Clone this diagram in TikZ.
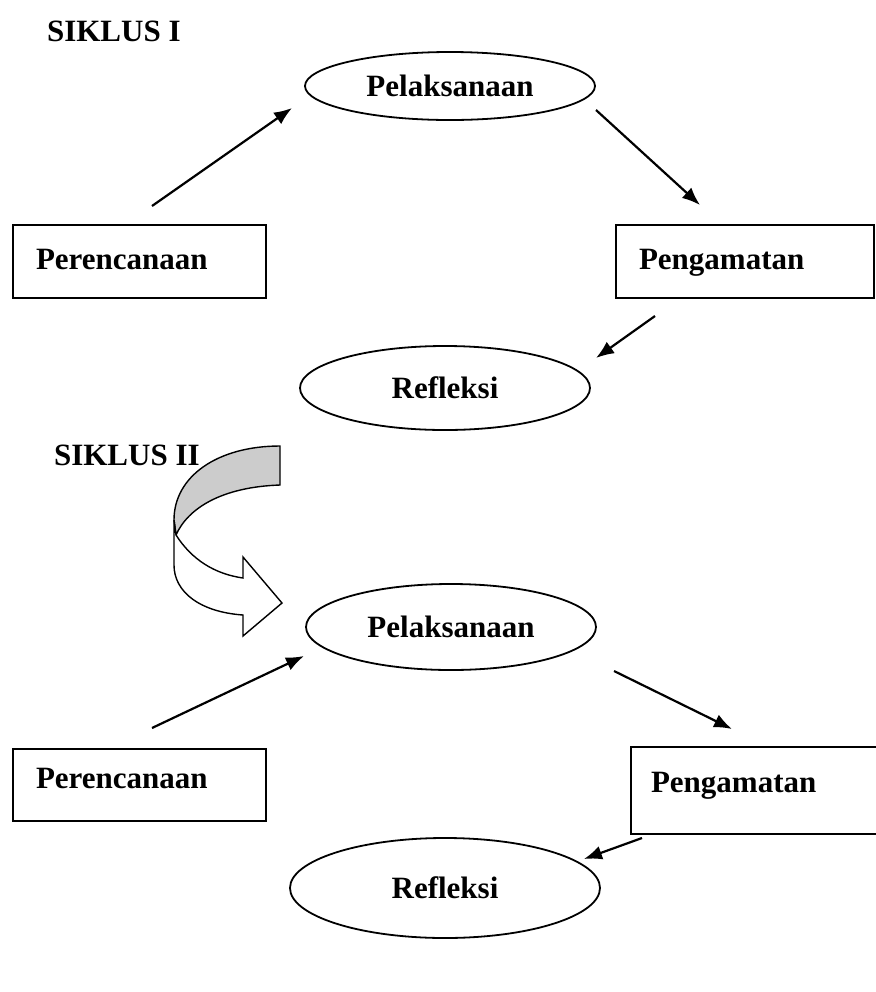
\documentclass[tikz,border=0pt]{standalone}
\usepackage{fontspec}
\setmainfont{Liberation Serif}
\usetikzlibrary{shapes,arrows.meta}
\def\lengkungatas{(280,446) -- (280,485) .. controls (222,487) and (188,508) .. (176,535) -- (174,520) .. controls (174,476) and (218,446) .. (280,446) -- cycle}
\def\lengkungbawah{(176,535) .. controls (192,560) and (215,574) .. (243,578) -- (243,557) -- (282,603) -- (243,636) -- (243,615) .. controls (200,612) and (174,592) .. (174,565) -- (174,520) -- cycle}

\begin{document}
\begin{tikzpicture}[x=0.5pt,y=-0.5pt,
   every node/.style={font=\bfseries\fontsize{15.5}{18}\selectfont},
   elips/.style={draw,ellipse,line width=0.9pt,inner sep=0pt},
   kotak/.style={draw,rectangle,line width=1pt,anchor=north west,align=left,inner ysep=0pt},
   panah/.style={line width=1.1pt,-{Latex[length=9pt,width=7pt]}}]
\useasboundingbox (0,0) rectangle (875,992);
      \node[anchor=west] (siklus1) at (40,31) {SIKLUS I};
    \node[elips,minimum width=145pt,minimum height=34pt] (laks1) at (450,86) {Pelaksanaan};
    \node[kotak,text width=103.5pt,inner xsep=11.5pt,text height=22pt,text depth=14.5pt] (renc1) at (12,224) {Perencanaan};
    \node[kotak,text width=106pt,inner xsep=11.5pt,text height=22pt,text depth=14.5pt] (amat1) at (615,224) {Pengamatan};
    \node[elips,minimum width=145pt,minimum height=42pt] (ref1) at (445,388) {Refleksi};
      \coordinate (renc1-out) at (152,206); \coordinate (laks1-in) at (292,108);
      \coordinate (laks1-out) at (596,110); \coordinate (amat1-in) at (700,205);
      \coordinate (amat1-out) at (655,316); \coordinate (ref1-in) at (596,358);
   \draw[panah] (renc1-out) -- (laks1-in);
   \draw[panah] (laks1-out) -- (amat1-in);
   \draw[panah] (amat1-out) -- (ref1-in);

      \node[anchor=west] (siklus2) at (47,455) {SIKLUS II};
         \filldraw[fill=gray!40,line width=0.7pt] \lengkungatas;
         \filldraw[fill=white,line width=0.7pt] \lengkungbawah;
    \node[elips,minimum width=145pt,minimum height=43pt] (laks2) at (451,627) {Pelaksanaan};
    \node[kotak,text width=103.5pt,inner xsep=11.5pt,text height=19.5pt,text depth=16.5pt] (renc2) at (12,748) {Perencanaan};
    \node[kotak,text width=125pt,inner xsep=10pt,text height=22.5pt,text depth=21pt] (amat2) at (630,746) {Pengamatan};
    \node[elips,minimum width=155pt,minimum height=50pt] (ref2) at (445,888) {Refleksi};
      \coordinate (renc2-out) at (152,728); \coordinate (laks2-in) at (304,656);
      \coordinate (laks2-out) at (614,671); \coordinate (amat2-in) at (732,729);
      \coordinate (amat2-out) at (642,838); \coordinate (ref2-in) at (584,859);
   \draw[panah] (renc2-out) -- (laks2-in);
   \draw[panah] (laks2-out) -- (amat2-in);
   \draw[panah] (amat2-out) -- (ref2-in);
\end{tikzpicture}
\end{document}
